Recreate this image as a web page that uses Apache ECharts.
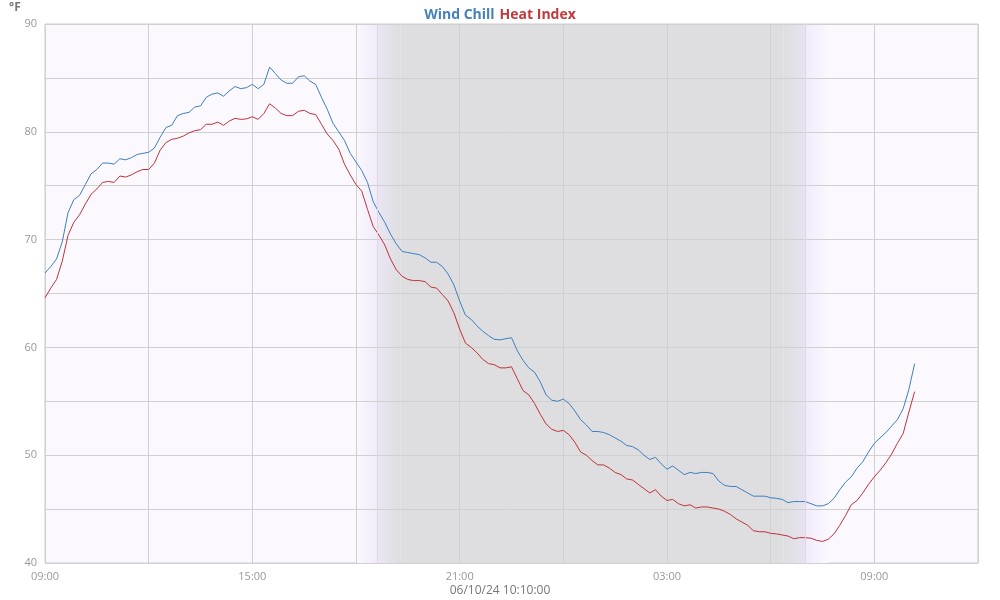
<!DOCTYPE html>
<html>
<head>
<meta charset="utf-8">
<script src="https://cdn.jsdelivr.net/npm/echarts@6/dist/echarts.min.js"></script>
<style>html,body{margin:0;padding:0;background:#fff}#c{width:1000px;height:600px}</style>
</head>
<body>
<div id="c"></div>
<script>
// Samples every 10 minutes starting 06/09/24 09:00, last one 06/10/24 10:10
const START_LABEL = '06/09/24 09:00';
const STEP_MIN = 10;
const windChill = [
66.9,67.5,68.2,69.8,72.5,73.7,74.1,75.1,76.1,76.5,
77.1,77.1,77.0,77.5,77.4,77.6,77.9,78.0,78.1,78.5,
79.5,80.4,80.6,81.5,81.7,81.8,82.3,82.4,83.2,83.5,
83.6,83.3,83.8,84.2,84.0,84.1,84.4,84.0,84.4,86.0,
85.4,84.8,84.5,84.5,85.1,85.2,84.7,84.4,83.2,82.1,
80.8,80.0,79.2,78.0,77.2,76.4,75.3,73.5,72.5,71.6,
70.5,69.6,68.9,68.8,68.7,68.6,68.3,67.9,67.9,67.5,
66.8,65.8,64.3,63.0,62.6,62.0,61.5,61.1,60.75,60.7,
60.8,60.9,59.7,58.8,58.1,57.7,56.8,55.6,55.1,55.0,
55.2,54.8,54.1,53.3,52.8,52.2,52.2,52.1,51.9,51.6,
51.3,50.9,50.8,50.5,50.0,49.6,49.8,49.2,48.7,49.0,
48.6,48.2,48.4,48.3,48.4,48.4,48.3,47.6,47.2,47.1,
47.1,46.8,46.5,46.2,46.2,46.2,46.05,46.0,45.9,45.6,
45.7,45.7,45.7,45.5,45.3,45.3,45.5,46.0,46.8,47.5,
48.0,48.8,49.4,50.3,51.1,51.6,52.1,52.7,53.3,54.3,
56.1,58.5
];
const heatIndex = [
64.6,65.5,66.3,68.0,70.4,71.6,72.3,73.3,74.2,74.7,
75.3,75.4,75.3,75.9,75.8,76.0,76.3,76.5,76.5,77.1,
78.3,79.0,79.3,79.4,79.6,79.9,80.1,80.2,80.7,80.7,
80.9,80.6,81.0,81.25,81.15,81.2,81.4,81.15,81.7,82.6,
82.2,81.7,81.5,81.5,81.9,82.0,81.7,81.6,80.7,79.8,
79.2,78.4,77.0,76.0,75.1,74.5,72.8,71.2,70.4,69.5,
68.2,67.2,66.6,66.3,66.2,66.2,66.1,65.6,65.5,64.9,
64.3,63.2,61.7,60.4,60.0,59.5,58.9,58.5,58.4,58.1,
58.1,58.2,57.1,56.0,55.6,54.8,53.8,52.9,52.4,52.2,
52.3,51.9,51.2,50.3,50.0,49.5,49.1,49.1,48.8,48.4,
48.2,47.8,47.7,47.3,46.9,46.5,46.8,46.2,45.8,45.9,
45.5,45.3,45.4,45.1,45.2,45.2,45.1,45.0,44.8,44.5,
44.1,43.8,43.5,43.0,42.9,42.9,42.75,42.7,42.6,42.5,
42.25,42.35,42.35,42.3,42.1,42.0,42.2,42.7,43.5,44.4,
45.4,45.8,46.5,47.3,48.0,48.6,49.3,50.1,51.1,52.0,
54.0,55.9
];
// x axis in minutes after 06/09 09:00; ticks every 3 h, labels every 6 h
const xTickLabels = ['09:00','','15:00','','21:00','','03:00','','09:00',''];
const yTicks = [40,50,60,70,80,90];
// dusk/dawn shading (minutes after start)
const duskStart = 540, sunset = 577, nightStart = 617;
const nightEnd = 1282, sunrise = 1320, dawnEnd = 1360;
const lastStamp = '06/10/24 10:10:00';

const toPairs = arr => arr.map((v, i) => [i * STEP_MIN, v]);
const lg = (a, b) => ({type:'linear', x:0, y:0, x2:1, y2:0, colorStops:[{offset:0,color:a},{offset:1,color:b}]});

const chart = echarts.init(document.getElementById('c'), null, {renderer:'canvas'});
chart.setOption({
  animation:false,
  title:{
    text:'{a|Wind Chill} {b|Heat Index}',
    left:'center', top:1,
    textStyle:{rich:{
      a:{color:'#4582bd', fontSize:14, fontWeight:'bold', fontFamily:'Open Sans'},
      b:{color:'#c0393d', fontSize:14, fontWeight:'bold', fontFamily:'Open Sans'}
    }}
  },
  graphic:[
    {type:'text', left:9, top:2, style:{text:'°F', fill:'#777', font:'bold 12px "Open Sans"'}},
    {type:'text', left:'center', top:585, style:{text:lastStamp, fill:'#777', font:'12px "Open Sans"'}}
  ],
  grid:{left:45, right:22, top:24, bottom:37, show:true, backgroundColor:'#fbf9fe', borderColor:'#cccccc', borderWidth:1, z:0},
  xAxis:{
    type:'value', min:0, max:1620, interval:180, z:2,
    axisLine:{show:false}, axisTick:{show:false},
    splitLine:{show:true, lineStyle:{color:'#d0d0d0', width:1}},
    axisLabel:{color:'#999', fontSize:11, fontFamily:'Open Sans', margin:8,
      formatter:v => xTickLabels[Math.round(v/180)] || ''}
  },
  yAxis:{
    type:'value', min:40, max:90, interval:5, z:2,
    axisLine:{show:false}, axisTick:{show:false},
    splitLine:{show:true, lineStyle:{color:'#d0d0d0', width:1}},
    axisLabel:{color:'#999', fontSize:11, fontFamily:'Open Sans', margin:8,
      formatter:v => yTicks.indexOf(v) >= 0 ? String(v) : ''}
  },
  series:[
    {
      type:'line', data:[], z:1, silent:true,
      markArea:{silent:true, data:[
        [{xAxis:duskStart, itemStyle:{color:lg('#faf8fe','#f1ebfa')}}, {xAxis:sunset}],
        [{xAxis:sunset, itemStyle:{color:lg('#eae6f4','#dedee0')}}, {xAxis:nightStart}],
        [{xAxis:nightStart, itemStyle:{color:'#dedee0'}}, {xAxis:nightEnd}],
        [{xAxis:nightEnd, itemStyle:{color:lg('#dedee0','#e6e3f1')}}, {xAxis:sunrise}],
        [{xAxis:sunrise, itemStyle:{color:lg('#f1eafc','#fbf9fe')}}, {xAxis:dawnEnd}]
      ]},
      markLine:{silent:true, symbol:'none', label:{show:false},
        lineStyle:{color:'#e4d6de', width:1, type:'solid'},
        data:[{xAxis:sunset},{xAxis:sunrise}]}
    },
    {name:'Wind Chill', type:'line', data:toPairs(windChill), z:3, showSymbol:false,
      lineStyle:{color:'#3b80c0', width:1}, itemStyle:{color:'#3b80c0'}},
    {name:'Heat Index', type:'line', data:toPairs(heatIndex), z:3, showSymbol:false,
      lineStyle:{color:'#c0333a', width:1}, itemStyle:{color:'#c0333a'}}
  ]
});
</script>
</body>
</html>
